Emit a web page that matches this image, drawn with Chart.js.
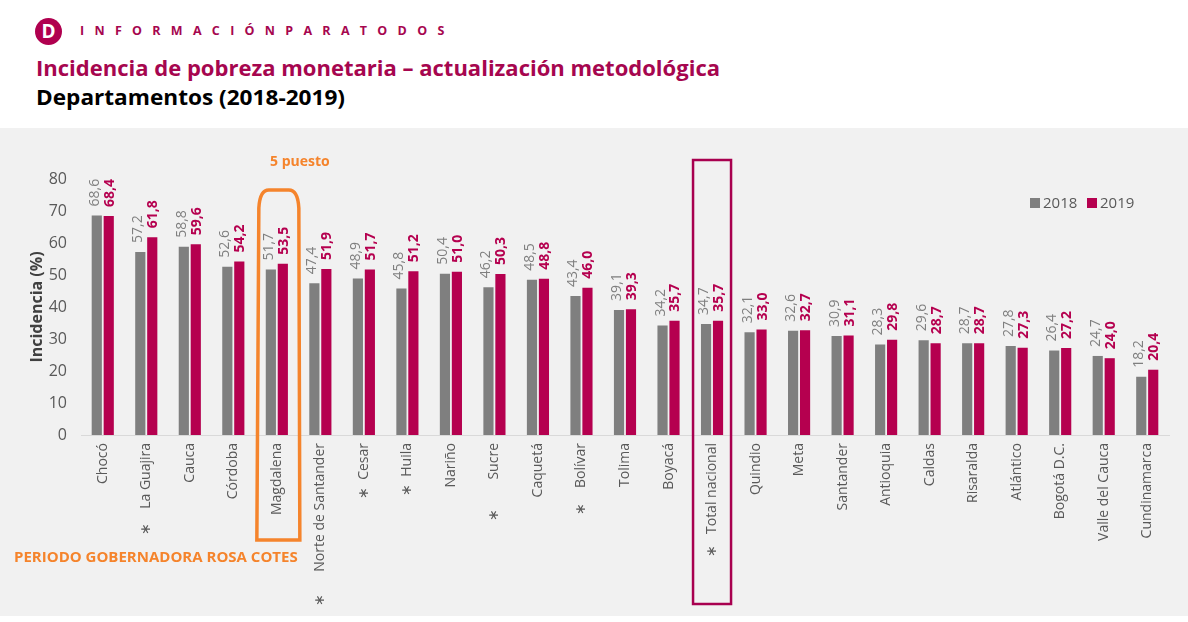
<!DOCTYPE html>
<html lang="es">
<head>
<meta charset="utf-8">
<title>Incidencia de pobreza monetaria</title>
<script src="https://cdn.jsdelivr.net/npm/chart.js@4/dist/chart.umd.min.js"></script>
<style>
  body { margin: 0; width: 1188px; height: 622px; background: #fff; position: relative; overflow: hidden; font-family: 'Open Sans', sans-serif; }
  .logo { position: absolute; left: 35px; top: 18px; width: 27px; height: 27px; border-radius: 50%; background: #b0004f; color: #fff; font: bold 19px 'Open Sans', sans-serif; text-align: center; line-height: 27px; }
  .tag { position: absolute; left: 80px; top: 22px; font: bold 12.5px 'Open Sans', sans-serif; letter-spacing: 10.3px; color: #a6064f; white-space: nowrap; }
  .fit { position: absolute; left: 36px; font: bold 22px 'Open Sans', sans-serif; line-height: 1; white-space: nowrap; transform-origin: left top; }
  #title { top: 56px; color: #a6064f; }
  #subtitle { top: 85px; color: #000; }
  #panel { position: absolute; left: 0; top: 128px; width: 1188px; height: 488px; background: #f1f1f1; }
  .legend { position: absolute; top: 192px; font: 15px 'Open Sans', sans-serif; color: #595959; white-space: nowrap; }
  .legend span { display: inline-block; width: 10px; height: 10px; margin-right: 3px; }
</style>
</head>
<body>
<div class="logo">D</div>
<div class="tag">INFORMACIÓNPARATODOS</div>
<div class="fit" id="title" data-w="684">Incidencia de pobreza monetaria – actualización metodológica</div>
<div class="fit" id="subtitle" data-w="309">Departamentos (2018-2019)</div>
<div id="panel"><canvas id="chart"></canvas></div>
<div class="legend" style="left:1030px"><span style="background:#7f7f7f"></span>2018</div>
<div class="legend" style="left:1087px"><span style="background:#b5004f"></span>2019</div>
<script>
const categories = ['Chocó', 'La Guajira', 'Cauca', 'Córdoba', 'Magdalena', 'Norte de Santander', 'Cesar', 'Huila', 'Nariño', 'Sucre', 'Caquetá', 'Bolívar', 'Tolima', 'Boyacá', 'Total nacional', 'Quindio', 'Meta', 'Santander', 'Antioquia', 'Caldas', 'Risaralda', 'Atlántico', 'Bogotá D.C.', 'Valle del Cauca', 'Cundinamarca'];
// tick labels as printed, with the asterisk marks
const tickLabels = ['Chocó', '∗    La Guajira', 'Cauca', 'Córdoba', 'Magdalena', '∗      Norte de Santander', '∗  Cesar', '∗  Huila', 'Nariño', '∗        Sucre', 'Caquetá', '∗    Bolívar', 'Tolima', 'Boyacá', '∗   Total nacional', 'Quindio', 'Meta', 'Santander', 'Antioquia', 'Caldas', 'Risaralda', 'Atlántico', 'Bogotá D.C.', 'Valle del Cauca', 'Cundinamarca'];
const values2018 = [68.6, 57.2, 58.8, 52.6, 51.7, 47.4, 48.9, 45.8, 50.4, 46.2, 48.5, 43.4, 39.1, 34.2, 34.7, 32.1, 32.6, 30.9, 28.3, 29.6, 28.7, 27.8, 26.4, 24.7, 18.2];
const values2019 = [68.4, 61.8, 59.6, 54.2, 53.5, 51.9, 51.7, 51.2, 51.0, 50.3, 48.8, 46.0, 39.3, 35.7, 35.7, 33.0, 32.7, 31.1, 29.8, 28.7, 28.7, 27.3, 27.2, 24.0, 20.4];
const yTicks = [0, 10, 20, 30, 40, 50, 60, 70, 80];

const GRAY = '#7f7f7f';
const CRIMSON = '#b5004f';
const ORANGE = '#f5842c';

// stretch header lines to their width in the original
document.querySelectorAll('.fit').forEach(el => {
    const w = el.getBoundingClientRect().width;
    el.style.transform = 'scaleX(' + (el.dataset.w / w) + ')';
});

Chart.defaults.font.family = "'Open Sans', sans-serif";
Chart.defaults.color = '#595959';

const fmt = v => v.toFixed(1).replace('.', ',');

const barLabels = {
    id: 'barLabels',
    afterDatasetsDraw(chart) {
        const ctx = chart.ctx;
        chart.data.datasets.forEach((ds, di) => {
            const meta = chart.getDatasetMeta(di);
            meta.data.forEach((bar, i) => {
                ctx.save();
                ctx.translate(bar.x + (di === 0 ? -2 : 1), bar.y - 9);
                ctx.rotate(-Math.PI / 2);
                ctx.font = (di === 0 ? '' : 'bold ') + "14px 'Open Sans', sans-serif";
                ctx.fillStyle = di === 0 ? GRAY : CRIMSON;
                ctx.textAlign = 'left';
                ctx.textBaseline = 'middle';
                ctx.fillText(fmt(ds.data[i]), 0, 0);
                ctx.restore();
            });
        });
    }
};

const notes = {
    id: 'notes',
    afterDraw(chart) {
        const ctx = chart.ctx;
        const x = chart.scales.x;
        const mag = x.getPixelForValue(categories.indexOf('Magdalena'));
        const tot = x.getPixelForValue(categories.indexOf('Total nacional'));
        ctx.save();
        // orange outline around Magdalena
        ctx.strokeStyle = ORANGE;
        ctx.lineWidth = 3.5;
        ctx.beginPath();
        ctx.moveTo(mag - 20, 412);
        ctx.lineTo(mag - 18, 80);
        ctx.quadraticCurveTo(mag - 17, 62, mag - 8, 62);
        ctx.lineTo(mag + 12, 62);
        ctx.quadraticCurveTo(mag + 21, 62, mag + 22, 80);
        ctx.lineTo(mag + 23, 412);
        ctx.closePath();
        ctx.stroke();
        ctx.fillStyle = ORANGE;
        ctx.font = "bold 14px 'Open Sans', sans-serif";
        ctx.textAlign = 'center';
        ctx.textBaseline = 'middle';
        ctx.fillText('5 puesto', mag + 23, 34);
        ctx.font = "bold 15px 'Open Sans', sans-serif";
        ctx.textAlign = 'left';
        ctx.fillText('PERIODO GOBERNADORA ROSA COTES', 14, 430);
        // crimson box around the national total
        ctx.strokeStyle = '#a8004f';
        ctx.lineWidth = 2.5;
        ctx.strokeRect(tot - 19, 32, 38, 444);
        ctx.restore();
    }
};

new Chart(document.getElementById('chart'), {
    type: 'bar',
    data: {
        labels: tickLabels,
        datasets: [
            { label: '2018', data: values2018, backgroundColor: GRAY },
            { label: '2019', data: values2019, backgroundColor: CRIMSON }
        ]
    },
    options: {
        responsive: true,
        maintainAspectRatio: false,
        animation: false,
        layout: { padding: { top: 51, left: 28, right: 19, bottom: 0 } },
        datasets: { bar: { categoryPercentage: 0.55, barPercentage: 0.85 } },
        scales: {
            x: {
                grid: { display: true, drawOnChartArea: false, drawTicks: false },
                border: { display: true, color: '#d9d9d9', width: 1 },
                ticks: { maxRotation: 90, minRotation: 90, padding: 8, color: '#595959', font: { size: 14 } },
                afterFit(s) { s.height = 181; }
            },
            y: {
                min: 0,
                max: 80,
                grid: { display: false, drawTicks: false },
                border: { display: false },
                afterBuildTicks(s) { s.ticks = yTicks.map(v => ({ value: v })); },
                ticks: { padding: 14, color: '#595959', font: { size: 16 } },
                title: { display: true, text: 'Incidencia (%)', color: '#404040', font: { size: 16, weight: 'bold' }, padding: 0 },
                afterFit(s) { s.width = 53; }
            }
        },
        plugins: {
            legend: { display: false },
            tooltip: { enabled: false }
        }
    },
    plugins: [barLabels, notes]
});
</script>
</body>
</html>
